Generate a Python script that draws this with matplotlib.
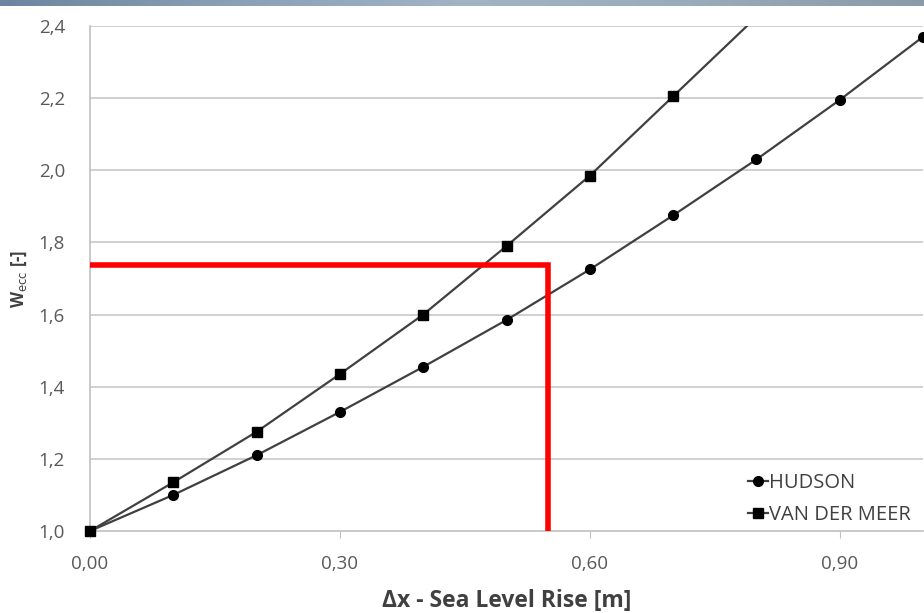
import matplotlib
matplotlib.use("Agg")
import matplotlib.pyplot as plt
import numpy as np
from matplotlib.colors import LinearSegmentedColormap

x_hudson = [0.0, 0.1, 0.2, 0.3, 0.4, 0.5, 0.6, 0.7, 0.8, 0.9, 1.0]
w_hudson = [1.0, 1.10, 1.21, 1.33, 1.455, 1.585, 1.725, 1.875, 2.03, 2.195, 2.37]
x_vdm = [0.0, 0.1, 0.2, 0.3, 0.4, 0.5, 0.6, 0.7, 0.8]
w_vdm = [1.0, 1.135, 1.275, 1.435, 1.60, 1.79, 1.985, 2.205, 2.425]
red_x = [0.0, 0.55, 0.55]
red_y = [1.737, 1.737, 1.0]
xticks = [0.0, 0.3, 0.6, 0.9]
xtick_labels = ["0,00", "0,30", "0,60", "0,90"]
yticks = [1.0, 1.2, 1.4, 1.6, 1.8, 2.0, 2.2, 2.4]
ytick_labels = ["1,0", "1,2", "1,4", "1,6", "1,8", "2,0", "2,2", "2,4"]

plt.rcParams['font.family'] = ['Open Sans', 'DejaVu Sans']

fig = plt.figure(figsize=(9.24, 6.13), dpi=100)
fig.patch.set_facecolor("white")

# top banner
bax = fig.add_axes([0, 1 - 6/613, 1, 6/613])
cmap = LinearSegmentedColormap.from_list("b", ["#6c84a0", "#8aa0b6", "#a2b3c4", "#9aabbb", "#8a9aa9"])
bax.imshow(np.linspace(0, 1, 256)[None, :], aspect="auto", cmap=cmap, extent=[0, 1, 0, 1])
bax.axis("off")

ax = fig.add_axes([90/924, 1 - 531/613, (923-90)/924, (531-26)/613])
ax.set_xlim(0, 1.0)
ax.set_ylim(1.0, 2.4)
for y in yticks[1:]:
    ax.axhline(y, color="#c8c8c8", lw=1.2, zorder=0)

line_c = "#404040"
ymin, ymax = ax.get_ylim()
for xs, ws, mk, lab in [(x_hudson, w_hudson, "o", "HUDSON"),
                        (x_vdm, w_vdm, "s", "VAN DER MEER")]:
    xs = np.asarray(xs); ws = np.asarray(ws)
    ax.plot(xs, ws, color=line_c, lw=1.6, zorder=3)
    inside = (ws >= ymin) & (ws <= ymax + 1e-9)
    ax.plot(xs[inside], ws[inside], ls="none", marker=mk, ms=7, mfc="black",
            mec="black", zorder=5, clip_on=False)
    ax.plot([], [], color=line_c, lw=1.6, marker=mk, ms=7, mfc="black",
            mec="black", label=lab)

ax.plot(red_x, red_y, color="#ff0000", lw=4, zorder=4, solid_capstyle="butt",
        solid_joinstyle="miter")

for s in ["top", "right"]:
    ax.spines[s].set_visible(False)
ax.spines["left"].set_color("#c0c0c0")
ax.spines["bottom"].set_color("#c0c0c0")
ax.spines["left"].set_linewidth(1.2)
ax.spines["bottom"].set_linewidth(1.2)

ax.set_xticks(xticks)
ax.set_xticklabels(xtick_labels)
ax.set_yticks(yticks)
ax.set_yticklabels(ytick_labels)
ax.tick_params(axis="x", length=5, color="#c0c0c0", labelsize=13.5, labelcolor="#595959", pad=12)
ax.tick_params(axis="y", length=0, labelsize=13.5, labelcolor="#595959", pad=18)

ax.set_xlabel("Δx - Sea Level Rise [m]", fontsize=16.5, fontweight="bold", color="#404040", labelpad=12)
ax.set_ylabel("W$_{\\mathrm{ecc}}$ [-]", fontsize=12, fontweight="bold", color="#404040", labelpad=7)

leg = ax.legend(loc="lower left", bbox_to_anchor=(0.783, 0.0), frameon=False, fontsize=14.5,
                handlelength=1.0, handletextpad=0.05, labelspacing=0.6, borderaxespad=0.0,
                borderpad=0.3)
for t in leg.get_texts():
    t.set_color("#404040")

fig.savefig("out.png", dpi=100, facecolor="white")
